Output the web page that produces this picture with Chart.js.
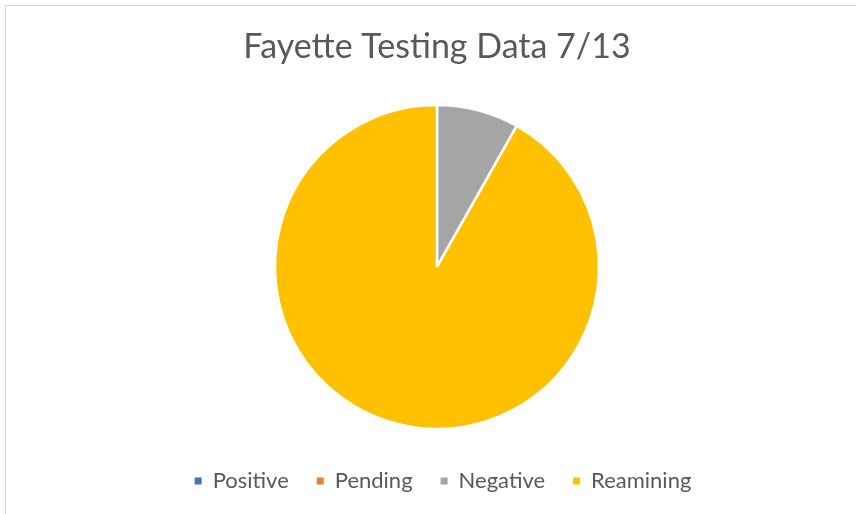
<!DOCTYPE html>
<html>
<head>
<meta charset="utf-8">
<script src="https://cdn.jsdelivr.net/npm/chart.js@4.4.0/dist/chart.umd.min.js"></script>
<style>
  html, body { margin: 0; padding: 0; background: #fff; }
  #frame { position: absolute; left: 5px; top: 5px; width: 900px; height: 600px; border: 1px solid #d9d9d9; }
  #wrap { position: absolute; left: 0; top: 0; width: 856px; height: 514px; }
</style>
</head>
<body>
<div id="frame"></div>
<div id="wrap"><canvas id="c" width="856" height="514"></canvas></div>
<script>
const categories = ["Positive", "Pending", "Negative", "Reamining"];
const values = [0, 0, 82, 918];
const colors = ["#4472C4", "#ED7D31", "#A5A5A5", "#FFC000"];
const titleText = "Fayette Testing Data 7/13";

const legendShift = {
  id: "legendShift",
  afterLayout(chart) {
    const lg = chart.legend;
    if (lg) { lg.left += 6; lg.right += 6; }
  }
};

new Chart(document.getElementById("c"), {
  type: "pie",
  data: {
    labels: categories,
    datasets: [{
      data: values,
      backgroundColor: colors,
      borderColor: "#ffffff",
      borderWidth: 2.5,
      radius: 162
    }]
  },
  options: {
    responsive: false,
    animation: false,
    layout: { padding: { top: 0, bottom: 12, left: 18, right: 0 } },
    plugins: {
      title: {
        display: true,
        text: titleText,
        color: "#595959",
        font: { family: "Lato", size: 34, weight: 400 },
        padding: { top: 27, bottom: 24 }
      },
      legend: {
        position: "bottom",
        labels: {
          color: "#595959",
          font: { family: "Lato", size: 22 },
          boxWidth: 7,
          boxHeight: 7,
          padding: 28,
          generateLabels: function (chart) {
            const items = Chart.controllers.pie.overrides.plugins.legend.labels.generateLabels(chart);
            items.forEach(function (it) { it.lineWidth = 0; it.strokeStyle = it.fillStyle; });
            return items;
          }
        }
      },
      tooltip: { enabled: false }
    }
  },
  plugins: [legendShift]
});
</script>
</body>
</html>
